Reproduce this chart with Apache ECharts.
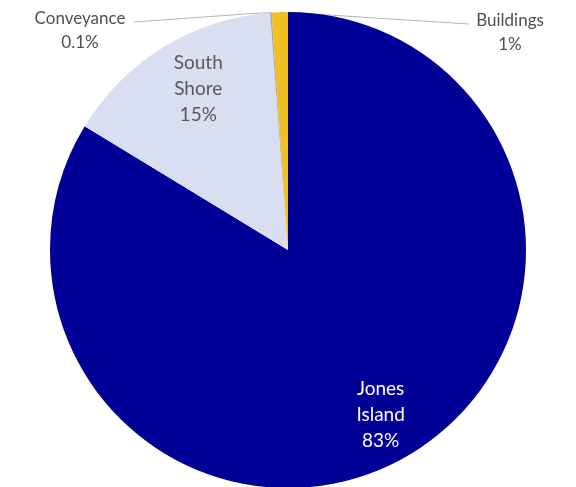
<!DOCTYPE html>
<html>
<head>
<meta charset="utf-8">
<script src="https://cdn.jsdelivr.net/npm/echarts@6/dist/echarts.min.js"></script>
<style>
  html, body { margin: 0; padding: 0; background: #fff; }
  #chart { width: 576px; height: 487px; }
</style>
</head>
<body>
<div id="chart"></div>
<script>
// slices, clockwise from 12 o'clock
const sliceNames = ['Jones\nIsland', 'South\nShore', 'Conveyance', 'Buildings']
const sliceValues = [83.7, 15.1, 0.1, 1.1]
const sliceLabels = ['83%', '15%', '0.1%', '1%']
const insideLabel = [true, true, false, false]

const palette = ['#000096', '#d9dff0', '#a6a6a6', '#f0bf24']
const insideTextColor = ['#ffffff', '#595959']

const font = 'Lato, "Open Sans", sans-serif'

let myChart = echarts.init(document.getElementById('chart'))

let sliceData = sliceNames.map((name, i) => ({
  name: name,
  value: sliceValues[i],
  itemStyle: { color: palette[i] },
  label: { show: !insideLabel[i] },
  labelLine: { show: !insideLabel[i] }
}))

// transparent ring on top, only to put the inner labels further out
let ringData = sliceNames.map((name, i) => ({
  name: name,
  value: sliceValues[i],
  label: {
    show: insideLabel[i],
    color: insideTextColor[i]
  }
}))

let options = {
  animation: false,
  series: [
    {
      type: 'pie',
      center: [288, 250],
      radius: 238,
      startAngle: 90,
      clockwise: true,
      avoidLabelOverlap: false,
      data: sliceData,
      label: {
        position: 'outside',
        fontFamily: font,
        fontSize: 17,
        lineHeight: 24,
        color: '#505050',
        align: 'center',
        formatter: p => p.name + '\n' + sliceLabels[p.dataIndex]
      },
      labelLine: {
        length: 10,
        length2: 10,
        lineStyle: { color: '#b4b4b4', width: 1 }
      },
      labelLayout(p) {
        let start = p.labelLinePoints ? p.labelLinePoints[0] : [280, 12]
        if (p.dataIndex === 2) {
          return {
            x: 80, y: 31, align: 'center', verticalAlign: 'middle',
            labelLinePoints: [start, [start[0] - 20, start[1] + 1], [134, 22]]
          }
        }
        if (p.dataIndex === 3) {
          return {
            x: 510, y: 33, align: 'center', verticalAlign: 'middle',
            labelLinePoints: [start, [start[0] + 20, start[1] + 1], [469, 24]]
          }
        }
      },
      emphasis: { disabled: true }
    },
    {
      type: 'pie',
      silent: true,
      center: [288, 250],
      radius: [134, 238],
      startAngle: 90,
      clockwise: true,
      data: ringData,
      itemStyle: { color: 'rgba(0,0,0,0)' },
      label: {
        position: 'inside',
        fontFamily: font,
        fontSize: 19,
        lineHeight: 26,
        formatter: p => p.name + '\n' + sliceLabels[p.dataIndex]
      },
      labelLayout(p) {
        if (p.dataIndex === 1) return { dx: 9 }
      },
      labelLine: { show: false },
      emphasis: { disabled: true }
    }
  ]
}

myChart.setOption(options)
</script>
</body>
</html>
